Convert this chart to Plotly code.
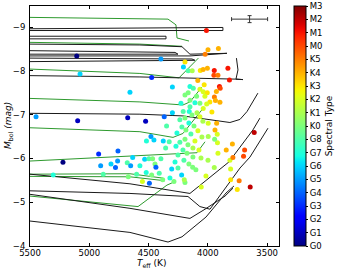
import plotly.graph_objects as go

# ---------------- data ----------------
spectral_labels = ["G0", "G1", "G2", "G3", "G4", "G5", "G6", "G7", "G8",
                   "K0", "K1", "K2", "K3", "K4", "K5", "M0", "M1", "M2", "M3"]

star_teff = [5106, 4396, 5078, 4474, 4657, 4299, 5449, 5098, 4676, 4525, 4368, 4299, 4348,
             4921, 4758, 5222, 4904, 4817, 4779, 4761, 4680, 4634, 4651, 4573, 4533, 4497,
             4466, 4396, 4518, 4480, 4455, 4376, 4326, 4356, 4305, 4446, 4882, 5304, 4671,
             4601, 4474, 4520, 4552, 4493, 4410, 4320, 4381, 4286, 4221, 4193, 4199, 4438,
             4128, 3946, 3814, 3808, 3808, 3736, 3643, 3752, 4056, 3793, 3690, 3699, 3789,
             3845, 3915, 3609, 3919, 3921, 3940, 3997, 3943, 3926, 3997,
             4012, 3999, 3911, 4023, 4193, 4206, 4166, 4132, 4064, 4040, 4004, 3946, 3831,
             3949, 3915, 3818, 4085, 3902, 3896, 3928, 4031, 4151, 4123, 4166, 4067, 4039,
             4005, 3945, 4095, 4025, 3936, 3898, 3983, 4151, 4109, 4067, 4010, 4039, 4151,
             4208, 4157, 4134, 4092, 4236, 4193, 4067, 4042, 4160, 4117, 4219, 4185, 4084,
             4143, 4261, 4050, 4193, 4109, 4236, 4168, 4269, 4126, 4210, 4075, 4176, 4252,
             4126, 4058, 4202, 4277, 4160, 3999, 4101, 4016, 4252, 4227, 4193, 3966]
star_mbol = [-8.34, -8.27, -7.93, -7.85, -7.51, -7.63, -6.95, -6.86, -6.93, -6.85, -6.95, -7.04, -6.74,
             -6.10, -6.17, -5.91, -5.83, -5.87, -5.79, -5.94, -5.90, -6.02, -5.83, -5.83, -5.98, -5.99,
             -5.99, -5.99, -6.40, -6.50, -6.42, -6.40, -6.38, -6.24, -5.76, -5.87, -5.64, -5.62, -5.58,
             -5.64, -5.62, -5.68, -5.47, -5.43, -5.66, -5.55, -5.51, -5.47, -5.62, -5.45, -5.51, -5.80,
             -5.80, -5.79, -5.96, -5.76, -5.51, -5.49, -5.35, -5.29, -5.35, -6.33, -6.19, -6.05, -6.02,
             -6.19, -6.12, -6.59, -6.36, -6.55, -6.65, -6.50, -6.44, -6.80, -6.80,
             -8.92, -8.48, -8.51, -8.38, -8.20, -8.09, -8.00, -8.00, -8.01, -8.03, -8.06, -8.01, -8.06,
             -7.90, -7.90, -7.79, -7.78, -7.64, -7.60, -7.53, -7.68, -7.64, -7.60, -7.50, -7.58, -7.52,
             -7.50, -7.40, -7.42, -7.42, -7.32, -7.28, -7.29, -7.33, -7.27, -7.26, -7.24, -7.14, -7.18,
             -7.07, -7.07, -6.99, -7.04, -6.88, -6.92, -6.95, -6.85, -6.81, -6.74, -6.72, -6.65, -6.63,
             -6.56, -6.58, -6.49, -6.44, -6.40, -6.37, -6.31, -6.28, -6.24, -6.19, -6.19, -6.12, -6.08,
             -6.03, -6.01, -5.96, -5.92, -5.87, -5.96, -5.74, -5.60, -5.78, -7.26, -7.45, -7.06]
star_sptype = ["G0", "G5", "G6", "G3", "G6", "G6", "G5", "G1", "G1", "G1", "G4", "G6", "G8",
               "G3", "G4", "G0", "G5", "G6", "G4", "G5", "G8", "G6", "G5", "G7", "G6", "G8",
               "K0", "G8", "G7", "G5", "G6", "G6", "G8", "G8", "G6", "K0", "G8", "G7", "K0",
               "G8", "K0", "G7", "K2", "G4", "G8", "G7", "K0", "K0", "G6", "K0", "K1", "G4",
               "K0", "K1", "K2", "K2", "K3", "K5", "M2", "K3", "K2", "K4", "M0", "M0", "K5",
               "K4", "K2", "M2", "K2", "K2", "K4", "K1", "K0", "K4", "K2",
               "M1", "K4", "K4", "K5", "K3", "G6", "G8", "K1", "K3", "K4", "K4", "M1", "M1",
               "M0", "K5", "M1", "K4", "M1", "M0", "K4", "K3", "G7", "G8", "K0", "K2", "K2",
               "K3", "K5", "K0", "K2", "K4", "K4", "K3", "K0", "G7", "K0", "K2", "K2", "G8",
               "G8", "G7", "K0", "K1", "G8", "K0", "K2", "K1", "G7", "K0", "G8", "K0", "K2",
               "G8", "G7", "K1", "K0", "K2", "G8", "K0", "G7", "K1", "G8", "K2", "K0", "G8",
               "K0", "K1", "G8", "G7", "K0", "K1", "K0", "K2", "G8", "G7", "K0", "K3"]

# evolutionary tracks (black)
black_tracks_teff = [
    [5500, 4657, 4336, 4218, 4016, 3847, 3780],
    [5500, 4657, 4151, 4024, 3855, 3788],
    [5500, 4657, 4168, 4067, 3982, 3729, 3645, 3493],
    [5500, 4657, 4151, 3822, 3620, 3561],
    [5500, 4573, 4210, 3814, 3729, 3670, 3578],
    [5500, 4573, 3763, 3704, 3763, 3746, 3759],
    [5500, 3873, 3873, 5500],
    [5500, 4353, 4353, 5500],
    [5500, 4573, 4218, 4151, 3839, 4151, 5500],
    [5500, 4488, 4277, 4252, 5500],
    [5500, 4134, 4109, 5500],
]
black_tracks_mbol = [
    [-4.57, -4.31, -4.09, -4.21, -4.66, -5.21, -5.37],
    [-5.18, -4.86, -4.63, -4.84, -5.14, -5.32],
    [-5.26, -5.20, -5.13, -4.90, -4.84, -5.78, -6.03, -6.69],
    [-5.64, -5.42, -5.20, -5.92, -6.65, -6.92],
    [-7.03, -7.01, -6.97, -6.82, -6.89, -7.07, -7.49],
    [-7.89, -7.86, -7.81, -7.80, -7.81, -8.02, -8.29],
    [-8.96, -8.99, -8.92, -8.92],
    [-8.79, -8.79, -8.73, -8.73],
    [-8.61, -8.59, -8.55, -8.38, -8.40, -8.34, -8.34],
    [-8.46, -8.44, -8.42, -8.38, -8.38],
    [-8.29, -8.27, -8.24, -8.21],
]
# evolutionary tracks (green)
green_tracks_teff = [
    [5500, 4336, 4269, 4260, 4159],
    [5500, 4573, 4218],
    [5500, 4573, 4243, 4080],
    [5500, 4573, 4210, 4151, 4050],
    [5500, 4573, 4294, 4210, 4050],
    [5500, 4505, 4092, 4024],
    [5500, 4657, 4379],
    [5500, 4657, 4362],
    [5500, 4589, 4345, 4303],
]
green_tracks_mbol = [
    [-9.22, -9.18, -9.05, -8.75, -8.68],
    [-8.65, -8.61, -8.56],
    [-8.04, -7.94, -7.84, -8.29],
    [-7.37, -7.29, -7.22, -7.29, -7.63],
    [-6.70, -6.61, -6.48, -6.57, -7.11],
    [-5.94, -6.08, -6.13, -6.38],
    [-5.64, -5.65, -5.55],
    [-5.59, -5.58, -5.49],
    [-5.14, -4.90, -5.39, -5.44],
]

# typical error bar
err_teff, err_mbol = [3648], [-9.18]
err_dteff, err_dmbol = [152], [0.08]

# ---------------- colour map (matplotlib jet) ----------------
_jet = {
    "r": [(0, 0), (0.35, 0), (0.66, 1), (0.89, 1), (1, 0.5)],
    "g": [(0, 0), (0.125, 0), (0.375, 1), (0.64, 1), (0.91, 0), (1, 0)],
    "b": [(0, 0.5), (0.11, 1), (0.34, 1), (0.65, 0), (1, 0)],
}


def _interp(seg, t):
    for (x0, y0), (x1, y1) in zip(seg[:-1], seg[1:]):
        if x0 <= t <= x1:
            return y0 + (y1 - y0) * (t - x0) / (x1 - x0)
    return seg[-1][1]


jet_scale = []
for i in range(41):
    t = i / 40
    r, g, b = (int(round(255 * _interp(_jet[c], t))) for c in "rgb")
    jet_scale.append([t, f"rgb({r},{g},{b})"])

sp_index = [spectral_labels.index(s) for s in star_sptype]

# ---------------- figure ----------------
fig = go.Figure()
for tx, my in zip(green_tracks_teff, green_tracks_mbol):
    fig.add_trace(go.Scatter(x=tx, y=my, mode="lines", line=dict(color="#2e9a2e", width=1),
                             hoverinfo="skip", showlegend=False))
for tx, my in zip(black_tracks_teff, black_tracks_mbol):
    fig.add_trace(go.Scatter(x=tx, y=my, mode="lines", line=dict(color="#1a1a1a", width=1),
                             hoverinfo="skip", showlegend=False))

fig.add_trace(go.Scatter(
    x=star_teff, y=star_mbol, mode="markers", showlegend=False,
    marker=dict(size=5, color=sp_index, colorscale=jet_scale, cmin=0, cmax=18,
                line=dict(width=0),
                colorbar=dict(
                    tickvals=list(range(len(spectral_labels))), ticktext=spectral_labels,
                    thickness=12, len=240, lenmode="pixels", x=1.06, xanchor="left",
                    xpad=0, ypad=0, y=0.5, yanchor="middle",
                    outlinewidth=1, outlinecolor="black",
                    ticks="outside", ticklen=2, tickcolor="black",
                    tickfont=dict(size=8.5, color="black"),
                    title=dict(text="Spectral Type", side="right",
                               font=dict(size=9, color="black")),
                )),
))

fig.add_trace(go.Scatter(
    x=err_teff, y=err_mbol, mode="markers", marker=dict(size=1, color="rgba(0,0,0,0)"),
    error_x=dict(type="data", array=err_dteff, color="#333", thickness=1, width=2),
    error_y=dict(type="data", array=err_dmbol, color="#333", thickness=1, width=2),
    showlegend=False, hoverinfo="skip"))

axis_common = dict(showline=True, linecolor="black", linewidth=1, mirror="ticks",
                   ticks="inside", ticklen=3, tickcolor="black", showgrid=False,
                   zeroline=False, tickfont=dict(size=8.5, color="black"))

fig.update_layout(
    width=346, height=269,
    margin=dict(l=30, r=67, t=6, b=23, autoexpand=False),
    paper_bgcolor="white", plot_bgcolor="white",
    font=dict(family="DejaVu Sans", color="black"),
    xaxis=dict(range=[5500, 3400], tickvals=[5500, 5000, 4500, 4000, 3500],
               ticklabelstandoff=-1, **axis_common),
    yaxis=dict(range=[-4, -9.48], tickvals=[-9, -8, -7, -6, -5, -4],
               ticklabelstandoff=2, **axis_common),
    annotations=[
        dict(text="<i>T</i><sub>eff</sub> (K)", xref="paper", yref="paper",
             x=0.49, y=-0.072, xanchor="center", yanchor="middle", showarrow=False,
             font=dict(size=9, color="black")),
        dict(text="<i>M</i><sub>bol</sub> <i>(mag)</i>", xref="paper", yref="paper",
             x=-0.088, y=0.5, xanchor="center", yanchor="middle", showarrow=False,
             textangle=-90, font=dict(size=9, color="black")),
    ],
)

fig.write_html("out.html", config={"displayModeBar": False},
               post_script="document.body.style.margin='0';document.body.style.overflow='hidden';")
